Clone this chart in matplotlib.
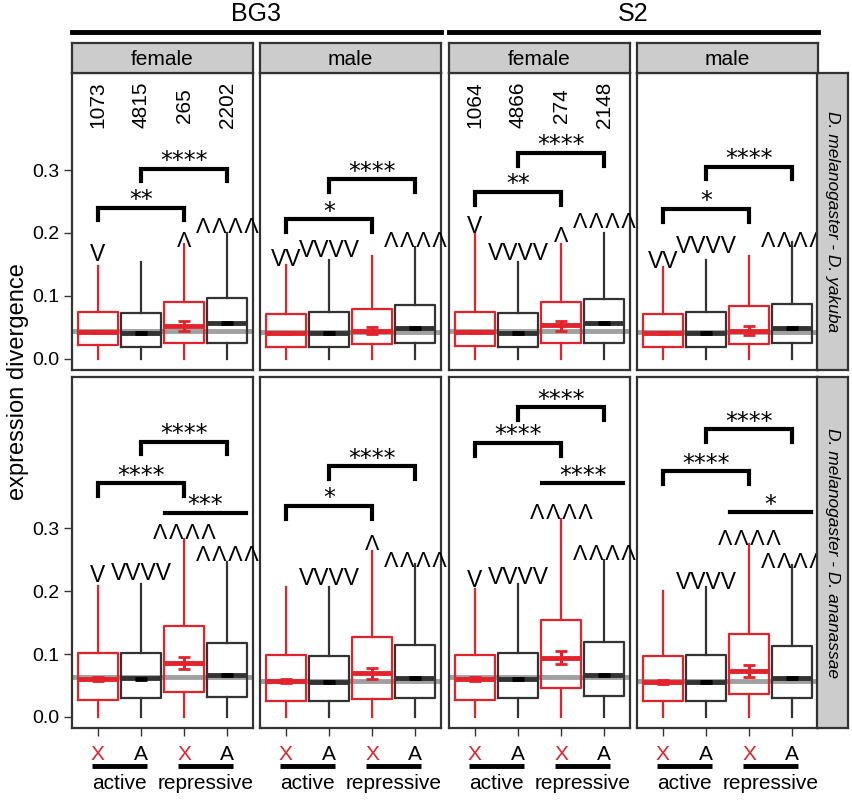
import matplotlib
matplotlib.use('Agg')
import matplotlib.pyplot as plt
from matplotlib.lines import Line2D

plt.rcParams['font.family'] = ['Liberation Sans', 'DejaVu Sans']

# ---------------- data ----------------
cell_lines = ['BG3', 'S2']
sexes = ['female', 'male', 'female', 'male']
species_pairs = ['D. melanogaster - D. yakuba', 'D. melanogaster - D. ananassae']
chrom_labels = ['X', 'A', 'X', 'A']
state_labels = ['active', 'repressive']
count_cols = [0, 2]
counts = [[1073, 4815, 265, 2202], [1064, 4866, 274, 2148]]

# top row: D. yakuba  (one list per panel: BG3 female, BG3 male, S2 female, S2 male)
yak_q1 = [[0.022, 0.019, 0.025, 0.025], [0.019, 0.019, 0.024, 0.025],
          [0.021, 0.019, 0.025, 0.025], [0.019, 0.019, 0.024, 0.025]]
yak_med = [[0.043, 0.041, 0.052, 0.057], [0.041, 0.041, 0.045, 0.049],
           [0.043, 0.041, 0.054, 0.057], [0.041, 0.041, 0.045, 0.049]]
yak_q3 = [[0.075, 0.073, 0.090, 0.097], [0.071, 0.075, 0.079, 0.086],
          [0.075, 0.073, 0.090, 0.095], [0.071, 0.075, 0.084, 0.087]]
yak_whi = [[0.148, 0.154, 0.183, 0.200], [0.149, 0.157, 0.163, 0.178],
           [0.200, 0.154, 0.183, 0.200], [0.146, 0.157, 0.163, 0.186]]
yak_mean = [[0.043, 0.041, 0.052, 0.057], [0.041, 0.041, 0.045, 0.049],
            [0.043, 0.041, 0.052, 0.057], [0.041, 0.041, 0.045, 0.049]]
yak_ci = [[0.002, 0.0015, 0.0075, 0.002], [0.002, 0.0015, 0.006, 0.002],
          [0.002, 0.0015, 0.008, 0.002], [0.002, 0.0015, 0.007, 0.002]]
yak_ref = [0.044, 0.043, 0.044, 0.043]

# bottom row: D. ananassae
ana_q1 = [[0.027, 0.030, 0.040, 0.032], [0.025, 0.025, 0.028, 0.030],
          [0.027, 0.030, 0.046, 0.033], [0.025, 0.025, 0.036, 0.030]]
ana_med = [[0.060, 0.062, 0.086, 0.067], [0.057, 0.056, 0.070, 0.062],
           [0.060, 0.060, 0.094, 0.067], [0.056, 0.056, 0.073, 0.062]]
ana_q3 = [[0.101, 0.102, 0.145, 0.118], [0.098, 0.097, 0.127, 0.114],
          [0.098, 0.101, 0.154, 0.119], [0.097, 0.098, 0.132, 0.113]]
ana_whi = [[0.208, 0.211, 0.283, 0.246], [0.206, 0.206, 0.264, 0.243],
           [0.203, 0.211, 0.314, 0.249], [0.200, 0.206, 0.275, 0.241]]
ana_mean = [[0.060, 0.061, 0.0855, 0.067], [0.057, 0.056, 0.069, 0.062],
            [0.060, 0.060, 0.0945, 0.067], [0.056, 0.056, 0.0735, 0.062]]
ana_ci = [[0.003, 0.0015, 0.0095, 0.002], [0.003, 0.0015, 0.009, 0.002],
          [0.003, 0.0015, 0.0105, 0.002], [0.003, 0.0015, 0.0095, 0.002]]
ana_ref = [0.063, 0.057, 0.063, 0.057]

whisker_low = 0.0

# symbols above boxes: (box, text, y-centre)
V1, V2, V4 = 'V', 'VV', 'VVVV'
U1 = '\u039b'
U4 = '\u039b\u200a\u039b\u200a\u039b\u200a\u039b'
yak_marks = [[(1, V1, 0.168), (3, U1, 0.190), (4, U4, 0.213)],
             [(1, V2, 0.160), (2, V4, 0.175), (4, U4, 0.190)],
             [(1, V1, 0.213), (2, V4, 0.170), (3, U1, 0.198), (4, U4, 0.220)],
             [(1, V2, 0.157), (2, V4, 0.181), (4, U4, 0.190)]]
ana_marks = [[(1, V1, 0.227), (2, V4, 0.230), (3, U4, 0.295), (4, U4, 0.260)],
             [(2, V4, 0.222), (3, U1, 0.278), (4, U4, 0.250)],
             [(1, V1, 0.220), (2, V4, 0.225), (3, U4, 0.326), (4, U4, 0.262)],
             [(2, V4, 0.217), (3, U4, 0.286), (4, U4, 0.249)]]

# significance brackets: (x1, x2, y, text)
yak_brackets = [[(1, 3, 0.240, '**'), (2, 4, 0.302, '****')],
                [(1, 3, 0.222, '*'), (2, 4, 0.285, '****')],
                [(1, 3, 0.265, '**'), (2, 4, 0.327, '****')],
                [(1, 3, 0.238, '*'), (2, 4, 0.305, '****')]]
ana_brackets = [[(1, 3, 0.371, '****'), (2, 4, 0.437, '****')],
                [(1, 3, 0.335, '*'), (2, 4, 0.398, '****')],
                [(1, 3, 0.435, '****'), (2, 4, 0.492, '****')],
                [(1, 3, 0.390, '****'), (2, 4, 0.457, '****')]]
# X vs A within repressive (plain lines): (y, text) or None
ana_lines = [(0.324, '***'), None, (0.371, '****'), (0.325, '*')]

# ---------------- style ----------------
RED = '#E3232B'
DARK = '#333333'
GRAY = '#a0a0a0'
STRIP = '#CCCCCC'
W, H = 853, 800
PXU = 630.0  # pixels per data unit on y

fig = plt.figure(figsize=(W / 100, H / 100), dpi=100)


def px_axes(x0, y0, x1, y1):
    return fig.add_axes([x0 / W, 1 - y1 / H, (x1 - x0) / W, (y1 - y0) / H])


col_x = [72, 260, 449, 637]
pw = 181
rows_y = [(73, 370), (377, 728)]
ylims = [(-0.0175, 0.454), (-0.0175, 0.54)]

rows = [
    (yak_q1, yak_med, yak_q3, yak_whi, yak_mean, yak_ci, yak_ref, yak_marks, yak_brackets, [None] * 4),
    (ana_q1, ana_med, ana_q3, ana_whi, ana_mean, ana_ci, ana_ref, ana_marks, ana_brackets, ana_lines),
]

MARK_FS = 16.5
UP_FS = 15.5
STAR_FS = 17
mark_cap = 0.716 * MARK_FS * 100 / 72 / PXU
up_cap = 0.716 * UP_FS * 100 / 72 / PXU

for r, (q1s, meds, q3s, whis, means, cis, refs, marks, brackets, lines) in enumerate(rows):
    y0, y1 = rows_y[r]
    for c in range(4):
        ax = px_axes(col_x[c], y0, col_x[c] + pw, y1)
        ax.set_xlim(0.4, 4.6)
        ax.set_ylim(*ylims[r])
        for sp in ax.spines.values():
            sp.set_linewidth(1.6)
            sp.set_color(DARK)
        ax.axhline(refs[c], color=GRAY, lw=3.5, zorder=1)
        for i in range(4):
            col = RED if i % 2 == 0 else DARK
            stat = dict(whislo=whisker_low, q1=q1s[c][i], med=meds[c][i], q3=q3s[c][i],
                        whishi=whis[c][i], fliers=[])
            ax.bxp([stat], positions=[i + 1], widths=0.92, showfliers=False, showcaps=False,
                   boxprops=dict(color=col, lw=1.6),
                   whiskerprops=dict(color=col, lw=1.6),
                   medianprops=dict(color=col, lw=3.5, solid_capstyle='butt'),
                   manage_ticks=False, zorder=2)
            ecol = RED if i % 2 == 0 else 'black'
            ax.errorbar([i + 1], [means[c][i]], yerr=[cis[c][i]], fmt='none', ecolor=ecol,
                        elinewidth=2.2, capsize=4, capthick=2, zorder=4)
        # marks
        for (b, t, yy) in marks[c]:
            if t.startswith('V'):
                ax.text(b, yy - mark_cap / 2, t, ha='center', va='baseline',
                        fontsize=MARK_FS, color='black', clip_on=False, zorder=5)
            else:
                ax.text(b, yy - up_cap / 2, t, ha='center', va='baseline', fontsize=UP_FS,
                        color='black', clip_on=False, zorder=5)
        # brackets
        for (b1, b2, yy, t) in brackets[c]:
            leg = 0.02
            ax.plot([b1, b1, b2, b2], [yy - leg, yy, yy, yy - leg], color='black', lw=3,
                    solid_joinstyle='miter', clip_on=False, zorder=5)
            ax.text((b1 + b2) / 2, yy + 0.001, t, ha='center', va='baseline',
                    fontsize=STAR_FS, family='DejaVu Sans', clip_on=False, zorder=5)
        if lines[c] is not None:
            yy, t = lines[c]
            ax.plot([2.56, 4.44], [yy, yy], color='black', lw=3, clip_on=False, zorder=5)
            ax.text(3.5, yy + 0.001, t, ha='center', va='baseline', fontsize=STAR_FS,
                    family='DejaVu Sans', clip_on=False, zorder=5)
        # counts
        if r == 0 and c in count_cols:
            for i, n in enumerate(counts[count_cols.index(c)]):
                ax.text(i + 1, 0.403, str(n), rotation=90, ha='center', va='center',
                        fontsize=15)
        # ticks
        if c == 0:
            ax.set_yticks([0.0, 0.1, 0.2, 0.3])
            ax.set_yticklabels(['0.0', '0.1', '0.2', '0.3'])
            ax.tick_params(axis='y', length=6, width=1, color=DARK, labelsize=14, pad=3)
        else:
            ax.set_yticks([])
        if r == 1:
            ax.set_xticks([1, 2, 3, 4])
            ax.set_xticklabels(chrom_labels)
            ax.tick_params(axis='x', length=6, width=1, color=DARK, labelsize=15, pad=6)
            for lab, ch in zip(ax.get_xticklabels(), chrom_labels):
                lab.set_color(RED if ch == 'X' else 'black')
            tr = ax.get_xaxis_transform()
            for k, st in enumerate(state_labels):
                xa, xb = 0.86 + 2 * k, 2.14 + 2 * k
                ax.plot([xa, xb], [-0.108, -0.108], transform=tr, color='black', lw=3.5,
                        clip_on=False, solid_capstyle='butt')
                ax.text(1.5 + 2 * k, -0.158, st, transform=tr, ha='center', va='center',
                        fontsize=15)
        else:
            ax.set_xticks([])
    # right strip
    sax = px_axes(817, y0, 848, y1)
    sax.set_facecolor(STRIP)
    sax.set_xticks([]); sax.set_yticks([])
    for sp in sax.spines.values():
        sp.set_linewidth(1.6); sp.set_color(DARK)
    sax.text(0.5, 0.5, species_pairs[r], rotation=270, ha='center', va='center',
             fontsize=12.5, style='italic', transform=sax.transAxes)

# column strips
for c in range(4):
    sax = px_axes(col_x[c], 43, col_x[c] + pw, 73)
    sax.set_facecolor(STRIP)
    sax.set_xticks([]); sax.set_yticks([])
    for sp in sax.spines.values():
        sp.set_linewidth(1.6); sp.set_color(DARK)
    sax.text(0.5, 0.45, sexes[c], ha='center', va='center', fontsize=15,
             transform=sax.transAxes)

# cell line headers
for k, name in enumerate(cell_lines):
    xa = col_x[2 * k]
    xb = col_x[2 * k + 1] + pw
    fig.add_artist(Line2D([xa / W, xb / W], [1 - 32 / H, 1 - 32 / H], color='black', lw=3.5,
                          transform=fig.transFigure))
    fig.text((xa + xb) / 2 / W, 1 - 14 / H, name, ha='center', va='center', fontsize=18)

fig.text(18 / W, 1 - 382 / H, 'expression divergence', rotation=90, ha='center',
         va='center', fontsize=17)

fig.savefig('out.png', dpi=100)
